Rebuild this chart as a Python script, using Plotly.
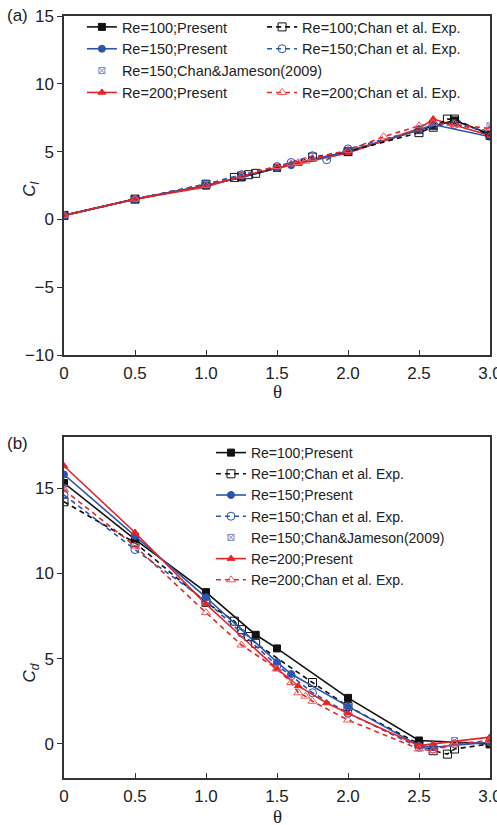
import plotly.graph_objects as go

# ---------------- data: panel (a) lift coefficient ----------------
cl_p100_theta = [0, 0.5, 1.0, 1.25, 1.5, 2.0, 2.5, 2.6, 2.75, 3.0]
cl_p100 = [0.3, 1.5, 2.5, 3.1, 3.8, 5.0, 6.6, 6.9, 7.3, 6.3]
cl_p150_theta = [0, 0.5, 1.0, 1.25, 1.5, 1.6, 2.0, 2.5, 2.6, 3.0]
cl_p150 = [0.3, 1.5, 2.5, 3.1, 3.8, 4.0, 5.0, 6.6, 7.0, 6.1]
cl_p200_theta = [0, 0.5, 1.0, 1.25, 1.5, 1.65, 2.0, 2.5, 2.6, 3.0]
cl_p200 = [0.3, 1.5, 2.4, 3.2, 3.8, 4.1, 4.9, 6.7, 7.4, 6.2]
cl_e100_theta = [0, 0.5, 1.0, 1.2, 1.25, 1.3, 1.35, 1.75, 2.0, 2.5, 2.6, 2.7, 2.75, 3.0]
cl_e100 = [0.3, 1.5, 2.6, 3.1, 3.2, 3.3, 3.4, 4.6, 5.0, 6.4, 6.8, 7.4, 7.4, 6.2]
cl_e150_theta = [0, 0.5, 1.0, 1.25, 1.5, 1.6, 1.75, 1.85, 2.0, 2.5, 2.6, 2.75, 3.0]
cl_e150 = [0.3, 1.5, 2.6, 3.3, 3.9, 4.2, 4.7, 4.4, 5.2, 6.6, 6.9, 7.0, 6.5]
cl_e200_theta = [0, 0.5, 1.0, 1.25, 1.5, 1.6, 1.65, 1.7, 1.75, 2.0, 2.25, 2.5, 2.6, 2.75, 3.0]
cl_e200 = [0.3, 1.5, 2.5, 3.2, 3.9, 4.1, 4.2, 4.3, 4.5, 5.1, 6.1, 6.9, 7.1, 7.0, 6.7]
cl_cj_theta = [2.75, 3.0]
cl_cj = [7.1, 6.9]

# ---------------- data: panel (b) drag coefficient ----------------
cd_p100_theta = [0, 0.5, 1.0, 1.35, 1.5, 2.0, 2.5, 3.0]
cd_p100 = [15.3, 12.0, 8.9, 6.4, 5.6, 2.7, 0.2, 0.0]
cd_p150_theta = [0, 0.5, 1.0, 1.5, 1.6, 2.0, 2.5, 2.6, 3.0]
cd_p150 = [15.8, 12.2, 8.6, 4.8, 4.1, 2.2, -0.1, -0.2, 0.1]
cd_p200_theta = [0, 0.5, 1.0, 1.5, 1.65, 1.85, 2.0, 2.5, 2.6, 3.0]
cd_p200 = [16.3, 12.4, 8.2, 4.4, 3.4, 2.4, 1.8, -0.1, 0.0, 0.4]
cd_e100_theta = [0, 0.5, 1.0, 1.2, 1.25, 1.3, 1.35, 1.75, 2.0, 2.5, 2.6, 2.7, 2.75, 3.0]
cd_e100 = [14.2, 11.8, 8.3, 7.2, 6.7, 6.3, 5.9, 3.6, 2.2, 0.0, -0.4, -0.6, -0.3, 0.0]
cd_e150_theta = [0, 0.5, 1.0, 1.25, 1.5, 1.6, 1.75, 2.0, 2.5, 2.6, 2.75, 3.0]
cd_e150 = [14.6, 11.4, 8.4, 6.5, 4.6, 4.0, 3.0, 1.8, -0.2, -0.3, 0.0, 0.1]
cd_e200_theta = [0, 0.5, 1.0, 1.25, 1.5, 1.6, 1.65, 1.7, 1.75, 2.0, 2.5, 2.6, 2.75, 3.0]
cd_e200 = [14.9, 11.6, 7.7, 5.8, 4.4, 3.6, 3.0, 2.8, 2.5, 1.4, -0.3, -0.4, 0.0, 0.2]
cd_cj_theta = [0, 2.75]
cd_cj = [15.0, 0.2]

x_tickvals = [0, 0.5, 1.0, 1.5, 2.0, 2.5, 3.0]
x_ticktext = ["0", "0.5", "1.0", "1.5", "2.0", "2.5", "3.0"]

BLACK = "#111111"
BLUE = "#2b55b0"
RED = "#e3262a"
LRED = "#f05a5a"
CJ = "#7a86c8"
FONT = "Liberation Sans, Arial, sans-serif"
SERIF = "Liberation Serif, Times New Roman, serif"
TXT = "#222222"

fig = go.Figure()


def add_set(xa, ya, data, legends):
    (p100t, p100, p150t, p150, p200t, p200, e100t, e100, e150t, e150, e200t, e200, cjt, cj) = data
    lp, le, lcj = legends
    specs = [
        (p100t, p100, "Re=100;Present", BLACK, "solid", "square", BLACK, lp),
        (e100t, e100, "Re=100;Chan et al. Exp.", BLACK, "5px,4px", "square-open", BLACK, le),
        (p150t, p150, "Re=150;Present", BLUE, "solid", "circle", BLUE, lp),
        (e150t, e150, "Re=150;Chan et al. Exp.", BLUE, "5px,4px", "circle-open", BLUE, le),
        (cjt, cj, "Re=150;Chan&Jameson(2009)", CJ, None, "square-x-open", CJ, lcj),
        (p200t, p200, "Re=200;Present", RED, "solid", "triangle-up", RED, lp),
        (e200t, e200, "Re=200;Chan et al. Exp.", RED, "5px,4px", "triangle-up-open", LRED, le),
    ]
    out = []
    for t, v, name, col, dash, sym, mcol, leg in specs:
        if dash is None:
            tr = go.Scatter(x=t, y=v, mode="markers", name=name,
                            marker=dict(symbol=sym, size=6, color=mcol, line=dict(width=1, color=mcol)),
                            xaxis=xa, yaxis=ya, legend=leg)
        else:
            tr = go.Scatter(x=t, y=v, mode="lines+markers", name=name,
                            line=dict(color=col, width=1.6, dash=dash),
                            marker=dict(symbol=sym, size=8 if "open" in sym else 7, color=mcol,
                                        line=dict(width=1, color=mcol)),
                            xaxis=xa, yaxis=ya, legend=leg)
        out.append((leg, tr))
    return out


top = add_set("x", "y",
              (cl_p100_theta, cl_p100, cl_p150_theta, cl_p150, cl_p200_theta, cl_p200,
               cl_e100_theta, cl_e100, cl_e150_theta, cl_e150, cl_e200_theta, cl_e200,
               cl_cj_theta, cl_cj),
              ("legend", "legend2", "legend"))
bot = add_set("x2", "y2",
              (cd_p100_theta, cd_p100, cd_p150_theta, cd_p150, cd_p200_theta, cd_p200,
               cd_e100_theta, cd_e100, cd_e150_theta, cd_e150, cd_e200_theta, cd_e200,
               cd_cj_theta, cd_cj),
              ("legend3", "legend3", "legend3"))

left = [tr for leg, tr in top if leg == "legend"]
right = [tr for leg, tr in top if leg == "legend2"]
for tr in left:
    fig.add_trace(tr)
fig.add_trace(right[0])
fig.add_trace(right[1])
fig.add_trace(go.Scatter(x=[None], y=[None], mode="markers", name=" ",
                         marker=dict(opacity=0), legend="legend2", xaxis="x", yaxis="y",
                         hoverinfo="skip"))
fig.add_trace(right[2])
for leg, tr in bot:
    fig.add_trace(tr)

axis_common = dict(showline=True, linecolor="#333333", linewidth=1.5, mirror=True,
                   showgrid=False, zeroline=False, ticklen=5, tickwidth=1.2, automargin=False,
                   tickcolor="#333333", tickfont=dict(family=FONT, size=17, color=TXT))

TOP_DOM = [0.555, 1.0]
BOT_DOM = [0, 0.4475]

fig.update_layout(
    width=497, height=825,
    margin=dict(l=64, r=7, t=16, b=47),
    paper_bgcolor="white", plot_bgcolor="white",
    font=dict(family=FONT, color=TXT),
    xaxis=dict(domain=[0, 1], anchor="y", range=[0, 3.0], tickvals=x_tickvals,
               ticktext=x_ticktext, ticks="inside", ticklabeloverflow="allow",
               ticklabelstandoff=2, **axis_common),
    yaxis=dict(domain=TOP_DOM, anchor="x", range=[-10, 15], tickvals=[-10, -5, 0, 5, 10, 15],
               ticks="outside", **axis_common),
    xaxis2=dict(domain=[0, 1], anchor="y2", range=[0, 3.0], tickvals=x_tickvals,
                ticktext=x_ticktext, ticks="inside", ticklabeloverflow="allow",
                ticklabelstandoff=2, **axis_common),
    yaxis2=dict(domain=BOT_DOM, anchor="x2", range=[-2, 18], tickvals=[0, 5, 10, 15],
                ticks="outside", **axis_common),
    legend=dict(x=0.042, y=1.0066, xanchor="left", yanchor="top", bgcolor="rgba(0,0,0,0)",
                font=dict(family=FONT, size=14.5, color=TXT), tracegroupgap=0, itemwidth=30),
    legend2=dict(x=0.465, y=1.0066, xanchor="left", yanchor="top", bgcolor="rgba(0,0,0,0)",
                 font=dict(family=FONT, size=14.5, color=TXT), tracegroupgap=0, itemwidth=30),
    legend3=dict(x=0.345, y=0.4475, xanchor="left", yanchor="top", bgcolor="rgba(0,0,0,0)",
                 font=dict(family=FONT, size=14, color=TXT), tracegroupgap=0, itemwidth=30),
    annotations=[
        dict(text="(a)", x=0, y=1, xref="paper", yref="paper", xshift=-59, yshift=1,
             xanchor="left", yanchor="middle", showarrow=False,
             font=dict(family=FONT, size=17, color=TXT)),
        dict(text="(b)", x=0, y=0.4475, xref="paper", yref="paper", xshift=-59, yshift=-6,
             xanchor="left", yanchor="middle", showarrow=False,
             font=dict(family=FONT, size=17, color=TXT)),
        dict(text="<i>C<sub>l</sub></i>", x=0, y=0.772, xref="paper", yref="paper", xshift=-33,
             xanchor="center", yanchor="middle", textangle=-90, showarrow=False,
             font=dict(family=FONT, size=17, color=TXT)),
        dict(text="<i>C<sub>d</sub></i>", x=0, y=0.137, xref="paper", yref="paper", xshift=-33,
             xanchor="center", yanchor="middle", textangle=-90, showarrow=False,
             font=dict(family=FONT, size=17, color=TXT)),
        dict(text="θ", x=0.5, y=0.517, xref="paper", yref="paper", yshift=-7,
             xanchor="center", yanchor="middle", showarrow=False,
             font=dict(family=SERIF, size=19, color=TXT)),
        dict(text="θ", x=0.5, y=-0.0525, xref="paper", yref="paper", yshift=2,
             xanchor="center", yanchor="middle", showarrow=False,
             font=dict(family=SERIF, size=19, color=TXT)),
    ],
    showlegend=True,
)

fig.write_html("out.html", config={"displayModeBar": False},
               post_script="document.body.style.margin='0';")
